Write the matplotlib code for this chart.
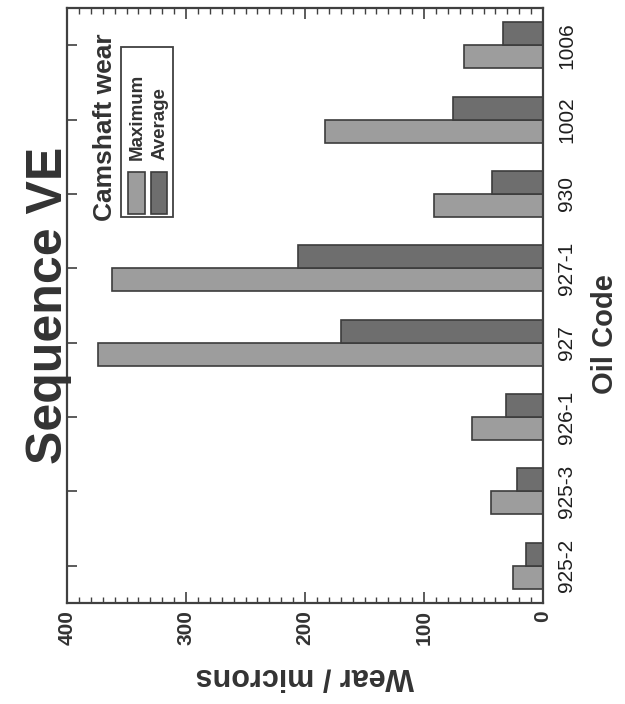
import matplotlib
matplotlib.use("Agg")
import matplotlib.pyplot as plt
import numpy as np
from matplotlib.ticker import MultipleLocator
from matplotlib.patches import Rectangle

plt.rcParams['font.family'] = ['Liberation Sans', 'DejaVu Sans']

oil_codes = ["925-2", "925-3", "926-1", "927", "927-1", "930", "1002", "1006"]
maximum_wear = [25, 44, 60, 374, 362, 92, 183, 66]
average_wear = [14, 22, 31, 170, 206, 43, 76, 34]
value_ticks = [0, 100, 200, 300, 400]
series_names = ["Maximum", "Average"]

light = "#9d9d9d"
dark = "#6e6e6e"
edge = "#3c3c3c"
axc = "#404040"

fig = plt.figure(figsize=(6.25, 7.04), dpi=100)
ax = fig.add_axes([67/625, 1-603/704, (543-67)/625, (603-8)/704])

y = np.arange(len(oil_codes))
h = 0.31
ax.barh(y - h/2, maximum_wear, height=h, color=light, edgecolor=edge, linewidth=1.2, zorder=2)
ax.barh(y + h/2, average_wear, height=h, color=dark, edgecolor=edge, linewidth=1.2, zorder=2)

ax.set_xlim(400, 0)
ax.set_ylim(-0.5, len(oil_codes) - 0.5)
ax.set_xticks(value_ticks)
ax.set_xticklabels([str(v) for v in value_ticks], rotation=90, fontsize=15, fontweight='bold', color='#333333')
ax.xaxis.set_minor_locator(MultipleLocator(10))
ax.tick_params(axis='x', which='major', direction='in', length=8, width=1.2, top=True, bottom=True, pad=5, colors=axc, labelcolor='#333333')
ax.tick_params(axis='x', which='minor', direction='in', length=4, width=1.0, top=True, bottom=True, colors=axc)

ax.set_yticks(y)
ax.set_yticklabels(oil_codes, fontsize=15, color='#1e1e1e')
ax.tick_params(axis='y', which='major', direction='in', length=7, width=1.2, left=True, right=False,
               labelleft=False, labelright=True, labelrotation=90, pad=10, colors=axc, labelcolor='#1e1e1e')
for lab in ax.get_yticklabels():
    lab.set_verticalalignment('center')
    lab.set_horizontalalignment('left')

for s in ax.spines.values():
    s.set_color(axc)
    s.set_linewidth(1.6)

ax.set_xlabel("Wear / microns", rotation=180, fontsize=22, fontweight='bold', color='#333333', labelpad=12)

fig.text(0.078, 1-305/704, "Sequence VE", rotation=90, fontsize=36, fontweight='bold',
         color='#333333', ha='center', va='center')
ax.text(1.13, 0.452, "Oil Code", rotation=90, fontsize=21, fontweight='bold', color='#333333',
        ha='center', va='center', transform=ax.transAxes)

# legend (drawn manually to match rotated layout)
ax.add_patch(Rectangle((0.113, 0.649), 0.110, 0.285, transform=ax.transAxes, fill=False,
                       edgecolor=axc, linewidth=1.3, zorder=3))
ax.add_patch(Rectangle((0.129, 0.653), 0.035, 0.071, transform=ax.transAxes, facecolor=light,
                       edgecolor=edge, linewidth=1.2, zorder=3))
ax.add_patch(Rectangle((0.177, 0.653), 0.033, 0.071, transform=ax.transAxes, facecolor=dark,
                       edgecolor=edge, linewidth=1.2, zorder=3))
ax.text(0.147, 0.745, series_names[0], rotation=90, rotation_mode='anchor', ha='left', va='center',
        fontsize=13.5, fontweight='bold', color='#333333', transform=ax.transAxes)
ax.text(0.195, 0.745, series_names[1], rotation=90, rotation_mode='anchor', ha='left', va='center',
        fontsize=13.5, fontweight='bold', color='#333333', transform=ax.transAxes)
ax.text(0.08, 0.80, "Camshaft wear", rotation=90, ha='center', va='center',
        fontsize=19, fontweight='bold', color='#333333', transform=ax.transAxes)

fig.savefig("out.png", dpi=100, facecolor='white')
